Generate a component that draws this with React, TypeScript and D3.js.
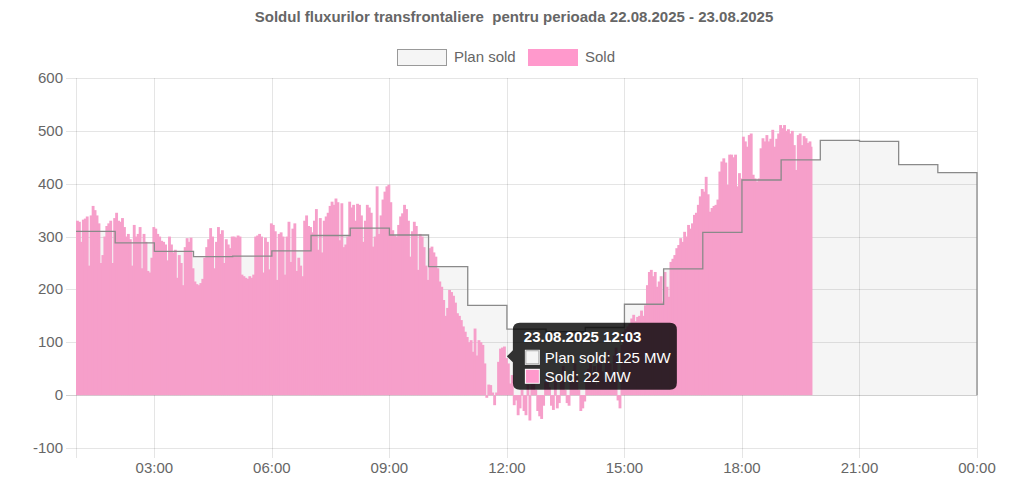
import React from 'react';
import * as d3 from 'd3';

const titleText = 'Soldul fluxurilor transfrontaliere  pentru perioada 22.08.2025 - 23.08.2025';
const seriesNames = ['Plan sold', 'Sold'];
const unit = 'MW';

// hourly plan, 01:00 .. 23:00 (each value holds for one hour)
const planStart = new Date(2025, 7, 23, 1, 0);
const planEnd = new Date(2025, 7, 24, 0, 0);
const planSold = [310, 288, 272, 262, 263, 273, 302, 316, 303, 243, 170, 125, 120, 128, 172, 239, 308, 407, 445, 482, 480, 436, 421];

// measured sold, one value every 3 minutes starting 01:00
const soldStepMinutes = 3;
const sold = [
  330, 328, 290, 332, 334, 338, 245, 340, 358, 350, 340, 325, 250, 265, 300, 320, 325, 330, 250, 335,
  345, 330, 328, 335, 318, 300, 305, 295, 245, 322, 300, 305, 318, 240, 305, 290, 235, 232, 260, 318,
  315, 305, 300, 292, 290, 285, 255, 300, 285, 270, 275, 222, 265, 250, 208, 280, 297, 290, 298, 240,
  215, 210, 208, 212, 220, 260, 280, 295, 316, 300, 240, 290, 318, 305, 312, 250, 295, 285, 278, 300,
  300, 298, 302, 300, 228, 225, 222, 220, 225, 222, 228, 300, 302, 305, 300, 232, 298, 290, 238, 325,
  322, 310, 218, 305, 308, 300, 228, 300, 328, 252, 315, 325, 235, 260, 245, 225, 330, 340, 320, 318,
  308, 330, 352, 275, 335, 270, 330, 338, 345, 358, 366, 360, 372, 365, 293, 363, 280, 285, 300, 366,
  355, 360, 330, 362, 360, 340, 290, 330, 360, 355, 345, 281, 300, 395, 305, 340, 370, 385, 395, 398,
  365, 312, 302, 300, 322, 338, 344, 360, 352, 330, 262, 310, 328, 320, 237, 305, 300, 280, 245, 218,
  278, 281, 270, 262, 240, 215, 205, 180, 150, 165, 199, 195, 188, 175, 155, 150, 142, 130, 120, 110,
  100, 104, 82, 126, 75, 104, 100, 95, 60, -5, 20, 19, 5, -19, 5, 63, 88, 90, 92, 70,
  60, 22, 38, -19, -10, -38, -25, 10, -30, -38, 20, -48, 30, 45, 10, -30, -40, -45, -20, 25,
  40, 15, -20, -28, 30, -25, -15, 40, 55, 10, -15, -20, 30, 45, 60, 35, 10, -30, -25, -12,
  30, 50, 65, 40, 55, 20, 60, 75, 45, 30, 70, 85, 60, 40, 75, 90, -10, -25, 95, 120,
  125, 130, 135, 145, 152, 140, 148, 150, 160, 150, 170, 208, 233, 237, 225, 233, 205, 215, 225, 177,
  233, 205, 186, 252, 258, 265, 278, 284, 297, 290, 309, 300, 322, 315, 325, 341, 345, 360, 376, 390,
  385, 413, 380, 347, 354, 358, 360, 370, 423, 442, 448, 440, 398, 455, 455, 450, 455, 395, 420, 410,
  489, 480, 470, 492, 495, 417, 410, 404, 410, 467, 486, 480, 492, 480, 485, 502, 470, 485, 495, 511,
  505, 511, 500, 503, 495, 500, 473, 426, 492, 495, 473, 490, 486, 477, 480, 470,
];

const yTicks = [-100, 0, 100, 200, 300, 400, 500, 600];
const tooltipIndex = 221; // 12:03

const W = 1024;
const H = 493;
const L = 76, R = 977, T = 78, B = 448;
const FONT = '"Liberation Sans", Arial, Helvetica, sans-serif';
const TXT = '#666';
const GRID = 'rgba(0,0,0,0.1)';
const PINK = '#ff99cc';
const BAR = '#f69fca';
const PLAN_FILL = 'rgba(0,0,0,0.04)';
const PLAN_LINE = '#8a8a8a';

export default function App() {
  const x = d3.scaleTime().domain([planStart, planEnd]).range([L, R]);
  const y = d3.scaleLinear().domain([-100, 600]).range([B, T]);
  const xTicks = x.ticks(d3.timeHour.every(3)!);
  const fmt = d3.timeFormat('%H:%M');

  const planPts: [Date, number][] = planSold.map((v, i) => [d3.timeHour.offset(planStart, i), v]);
  planPts.push([planEnd, planSold[planSold.length - 1]]);
  const area = d3.area<[Date, number]>().x(d => x(d[0])).y0(y(0)).y1(d => y(d[1])).curve(d3.curveStepAfter);
  const line = d3.line<[Date, number]>().x(d => x(d[0])).y(d => y(d[1])).curve(d3.curveStepAfter);
  const linePath = (line(planPts) || '') + `L${x(planEnd)},${y(0)}`;

  const soldTime = (i: number) => d3.timeMinute.offset(planStart, i * soldStepMinutes);

  // tooltip
  const tt = soldTime(tooltipIndex);
  const planIdx = Math.floor(d3.timeHour.count(planStart, tt));
  const planVal = planSold[planIdx];
  const soldVal = sold[tooltipIndex];
  const cx = x(tt);
  const cy = y((planVal + soldVal) / 2);
  const bx = cx + 4;
  const bw = 164, bh = 67;
  const by = cy - bh / 2;
  const ttTitle = d3.timeFormat('%d.%m.%Y %H:%M')(tt);

  const legendY = 49;
  return (
    <svg width={W} height={H} style={{ position: 'absolute', left: 0, top: 0, background: '#fff' }} fontFamily={FONT}>
      <rect x={0} y={0} width={W} height={H} fill="#fff" />
      <text x={514} y={22} textAnchor="middle" fontSize={15} fontWeight="bold" fill={TXT} xmlSpace="preserve" style={{ whiteSpace: 'pre' }}>{titleText}</text>

      {/* legend */}
      <rect x={397.5} y={legendY + 0.5} width={49} height={16} fill="#f5f5f5" stroke="#999" strokeWidth={1} />
      <text x={454} y={legendY + 13} fontSize={15} fill={TXT}>{seriesNames[0]}</text>
      <rect x={528.5} y={legendY + 0.5} width={49} height={16} fill={PINK} stroke={PINK} strokeWidth={1} />
      <text x={585} y={legendY + 13} fontSize={15} fill={TXT}>{seriesNames[1]}</text>

      {/* grid */}
      {yTicks.map(v => (
        <line key={'gy' + v} x1={L - 10} x2={R} y1={Math.round(y(v)) + 0.5} y2={Math.round(y(v)) + 0.5} stroke={v === 0 ? 'rgba(0,0,0,0.18)' : GRID} />
      ))}
      <line x1={L + 0.5} x2={L + 0.5} y1={T} y2={B + 10} stroke={GRID} />
      {xTicks.map(t => (
        <line key={'gx' + t.getTime()} x1={Math.round(x(t)) + 0.5} x2={Math.round(x(t)) + 0.5} y1={T} y2={B + 10} stroke={GRID} />
      ))}

      {/* plan fill */}
      <path d={area(planPts) || ''} fill={PLAN_FILL} />

      {/* sold bars */}
      {sold.map((v, i) => {
        const x0 = x(soldTime(i));
        const x1 = x(soldTime(i + 1));
        const y0 = y(0), y1 = y(v);
        const last = i === sold.length - 1;
        return <rect key={'b' + i} x={x0} y={Math.min(y0, y1)} width={x1 - x0 + (last ? 0 : 0.9)} height={Math.abs(y1 - y0)} fill={BAR} />;
      })}

      {/* plan line */}
      <path d={linePath} fill="none" stroke={PLAN_LINE} strokeWidth={1.3} />

      {/* axes labels */}
      {yTicks.map(v => (
        <text key={'ty' + v} x={63} y={y(v) + 5} textAnchor="end" fontSize={15} fill={TXT}>{v}</text>
      ))}
      {xTicks.map(t => (
        <text key={'tx' + t.getTime()} x={x(t)} y={473} textAnchor="middle" fontSize={15} fill={TXT}>{fmt(t)}</text>
      ))}

      {/* tooltip */}
      <g>
        <path d={`M${bx + 7},${by} H${bx + bw - 7} Q${bx + bw},${by} ${bx + bw},${by + 7} V${by + bh - 7} Q${bx + bw},${by + bh} ${bx + bw - 7},${by + bh} H${bx + 7} Q${bx},${by + bh} ${bx},${by + bh - 7} V${cy + 6} L${cx - 2},${cy} L${bx},${cy - 6} V${by + 7} Q${bx},${by} ${bx + 7},${by} Z`} fill="rgba(0,0,0,0.8)" />
        <text x={bx + 11} y={by + 19} fontSize={15} fontWeight="bold" fill="#fff">{ttTitle}</text>
        <rect x={bx + 12} y={by + 27} width={15} height={15} fill="#fff" />
        <rect x={bx + 13} y={by + 28} width={13} height={13} fill="#f5f5f5" stroke="#999" strokeWidth={0.8} />
        <text x={bx + 32} y={by + 40} fontSize={15} fill="#fff">{`${seriesNames[0]}: ${planVal} ${unit}`}</text>
        <rect x={bx + 12} y={by + 46} width={15} height={15} fill="#fff" />
        <rect x={bx + 13} y={by + 47} width={13} height={13} fill={PINK} />
        <text x={bx + 32} y={by + 59} fontSize={15} fill="#fff">{`${seriesNames[1]}: ${soldVal} ${unit}`}</text>
      </g>
    </svg>
  );
}
